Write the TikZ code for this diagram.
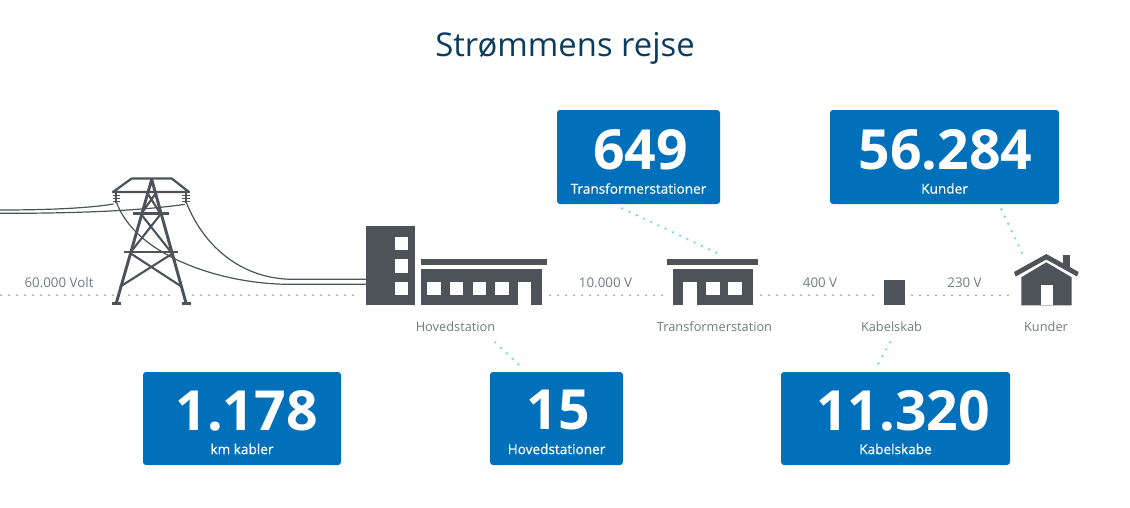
\documentclass[tikz,border=0pt]{standalone}
\usepackage{fontspec}
\setmainfont{Open Sans}
\newfontfamily\semifont[FakeBold=0.5]{Open Sans}
\usetikzlibrary{calc}
\definecolor{darkgrey}{HTML}{4D5359}
\definecolor{labelgrey}{HTML}{717A82}
\definecolor{boxblue}{HTML}{0070BA}
\definecolor{titleblue}{HTML}{0B3C5D}
\definecolor{leaderblue}{HTML}{7FD0F0}
\definecolor{dotgrey}{HTML}{ABB0B4}
\tikzset{
  infobox/.style={fill=boxblue,rounded corners=2.25pt,inner sep=0pt,text=white,align=center},
  grey/.style={fill=darkgrey,draw=none},
  win/.style={fill=white,draw=none},
  mast/.style={draw=darkgrey,line width=2.2pt,line join=round},
  wire/.style={draw=darkgrey,line width=0.9pt},
  volt/.style={text=labelgrey,font=\fontsize{10}{12}\selectfont},
  place/.style={text=labelgrey,font=\fontsize{9.6}{12}\selectfont},
  track/.style={draw=dotgrey,line width=1.7pt,line cap=round,dash pattern=on 0pt off 6pt},
  leader/.style={draw=leaderblue,line width=2pt,line cap=round,dash pattern=on 0pt off 6pt,shorten >=3pt}
}
\newcommand{\bignum}{\fontsize{41.5}{44}\bfseries\selectfont}
\newcommand{\boxtext}{\semifont\fontsize{10.2}{12}\selectfont}
\begin{document}
\begin{tikzpicture}[x=0.75pt,y=-0.75pt]
\useasboundingbox (0,0) rectangle (1130,507);
\node[text=titleblue,font=\fontsize{24.6}{30}\selectfont] (title) at (565,48.5) {Strømmens rejse};
% dotted tracks
\draw[track] (1,295.3) -- (114,295.3);
\draw[track] (129,295.3) -- (177,295.3);
\draw[track] (193,295.3) -- (358,295.3);
\draw[track] (550,295.3) -- (666,295.3);
\draw[track] (761,295.3) -- (880,295.3);
\draw[track] (912,295.3) -- (1013,295.3);
% wires
\draw[wire] (0,210) .. controls (50,210) and (90,208) .. (113.5,204);
\draw[wire] (0,213.3) .. controls (70,213.5) and (140,211) .. (185,204.3);
\draw[wire] (116.3,201.7) .. controls (135,255) and (220,284.3) .. (290,284.3) -- (366,284.3);
\draw[wire] (186,201.7) .. controls (205,250) and (245,279.3) .. (293,279.3) -- (366,279.3);
% mast
\draw[mast,line width=1.7pt] (113,192) -- (131.7,178.5) -- (171.7,178.5) -- (189,192) -- cycle;
\draw[mast] (116.3,303) -- (151.7,179.5) -- (186,303);
\draw[mast,line width=1.9pt] (133,213.5) -- (169,213.5);
\draw[mast,line width=1.9pt] (124,252) -- (178,252);
\draw[mast,line width=1.6pt] (120,286.7) -- (173.3,253) (130,253) -- (181.7,286.7);
\draw[mast,line width=1.6pt] (141.7,215) -- (171.7,253) (160,215) -- (130,253);
\draw[mast,line width=1.6pt] (141.7,213) -- (156.7,192) (160,213) -- (146.7,192);
\draw[mast,line width=1.5pt] (116.3,192) -- (116.3,203) (186,192) -- (186,203);
\foreach \y in {195.7,198.7,201.7} {
  \draw[mast,line width=1pt] (112.5,\y) -- (120,\y) (182.3,\y) -- (189.7,\y);
}
\fill[grey] (111.7,301.5) rectangle (120.7,305.3);
\fill[grey] (181.5,301.5) rectangle (190.5,305.3);
% main station
\fill[grey] (365.7,226) rectangle (414.7,305.3);
\foreach \y in {237,259.3,281.7} {
  \fill[win] (395,\y) rectangle +(13.4,13.3);
}
\fill[grey] (420.7,259.3) rectangle (547.3,264.7);
\fill[grey] (420.7,269) rectangle (541.7,305.3);
\foreach \x in {427.3,450,472.7,495.3} {
  \fill[win] (\x,281.7) rectangle +(13.4,13.3);
}
\fill[win] (518,281.7) rectangle (531,305.3);
% transformer station
\fill[grey] (667,259) rectangle (758,264.7);
\fill[grey] (673,269) rectangle (753,305.3);
\fill[win] (683.3,281.7) rectangle (697,305.3);
\fill[win] (706,281.7) rectangle +(13.6,13.3);
\fill[win] (728.3,281.7) rectangle +(13.6,13.3);
% cable cabinet
\fill[grey] (884.3,280.3) rectangle (904.7,305.3);
% house
\fill[grey] (1021.3,305.3) -- (1021.3,277.3) -- (1046.3,262.3) -- (1071.7,277.3) -- (1071.7,305.3) -- cycle;
\fill[grey] (1063.3,255) rectangle (1070,268);
\fill[grey] (1014,272) -- (1046.3,254) -- (1078.7,272) -- (1077,276.5) -- (1046.3,259.5) -- (1015.7,276.5) -- cycle;
\fill[win] (1041,284.7) rectangle (1052.7,305.3);
% voltages and places
\node[volt] (v60) at (59,283) {60.000 Volt};
\node[volt] (v10) at (605.5,283) {10.000 V};
\node[volt] (v400) at (820,283) {400 V};
\node[volt] (v230) at (964.5,283) {230 V};
\node[place] (hoved) at (455.5,326.5) {Hovedstation};
\node[place] (trans) at (714.5,326.5) {Transformerstation};
\node[place] (skab) at (891.5,326.5) {Kabelskab};
\node[place] (kunde) at (1046,326.5) {Kunder};
% boxes
\node[infobox,minimum width=122.25pt,minimum height=70.5pt] (boxtrans) at (638.5,157) {};
\node[infobox,minimum width=171.75pt,minimum height=70.5pt] (boxkunde) at (944.5,157) {};
\node[infobox,minimum width=148.5pt,minimum height=69.75pt] (boxkabler) at (242,418.5) {};
\node[infobox,minimum width=99.75pt,minimum height=69.75pt] (boxhoved) at (556.5,418.5) {};
\node[infobox,minimum width=171.75pt,minimum height=69.75pt] (boxskab) at (895.5,418.5) {};
\foreach \name/\big/\small/\xbig/\ybig/\ysmall in {
  boxtrans/649/Transformerstationer/2/-7/31.5,
  boxkunde/56.284/Kunder/1/-7/31.5,
  boxkabler/1.178/km kabler/4.5/-8/30.5,
  boxhoved/15/Hovedstationer/2/-8/30.5,
  boxskab/11.320/Kabelskabe/7.5/-8/30.5} {
  \node[text=white,font=\bignum] at ($(\name)+(\xbig,\ybig)$) {\big};
  \node[text=white,font=\boxtext] at ($(\name)+(0,\ysmall)$) {\small};
}
% leaders
\coordinate (ltrans) at (716.3,252.7);
\coordinate (lkunde) at (1022,252.7);
\coordinate (lhoved) at (495.3,342.3);
\coordinate (lskab) at (890.3,342.3);
\draw[leader] (ltrans) -- (boxtrans.-118);
\draw[leader] (lkunde) -- (boxkunde.-41);
\draw[leader] (lhoved) -- (boxhoved.123);
\draw[leader] (lskab) -- (boxskab.115);
\end{tikzpicture}
\end{document}
